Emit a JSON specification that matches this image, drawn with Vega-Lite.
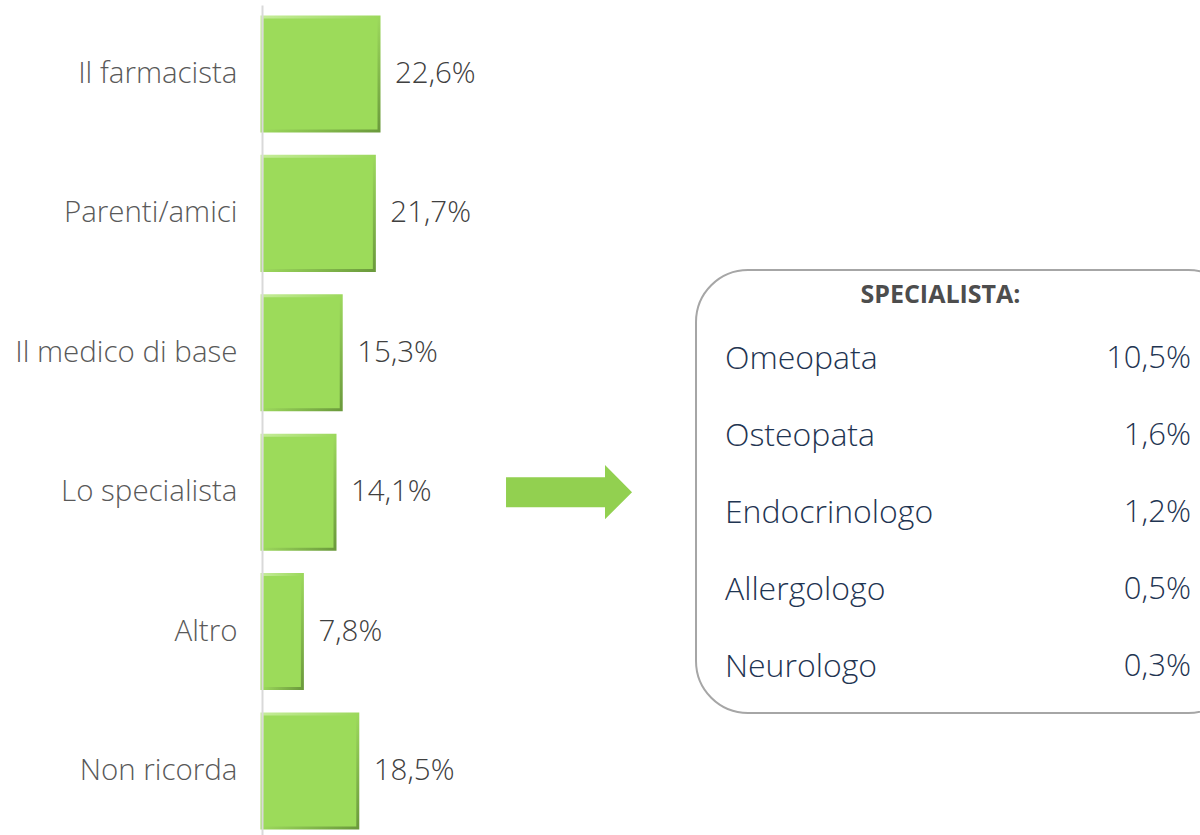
{
  "$schema": "https://vega.github.io/schema/vega-lite/v6.json",
  "background": "white",
  "padding": {"top": 5, "left": 0, "right": 0, "bottom": 0},
  "spacing": 0,
  "config": {
    "view": {"stroke": null},
    "locale": {"number": {"decimal": ",", "thousands": ".", "grouping": [3], "currency": ["€", ""]}},
    "concat": {"spacing": 0}
  },
  "datasets": {
    "fonti": [
      {"categoria": "Il farmacista", "valore": 0.226},
      {"categoria": "Parenti/amici", "valore": 0.217},
      {"categoria": "Il medico di base", "valore": 0.153},
      {"categoria": "Lo specialista", "valore": 0.141},
      {"categoria": "Altro", "valore": 0.078},
      {"categoria": "Non ricorda", "valore": 0.185}
    ],
    "specialisti": [
      {"nome": "Omeopata", "quota": 0.105, "ordine": 1},
      {"nome": "Osteopata", "quota": 0.016, "ordine": 2},
      {"nome": "Endocrinologo", "quota": 0.012, "ordine": 3},
      {"nome": "Allergologo", "quota": 0.005, "ordine": 4},
      {"nome": "Neurologo", "quota": 0.003, "ordine": 5}
    ]
  },
  "hconcat": [
    {
      "width": 433,
      "height": 830,
      "data": {"name": "fonti"},
      "encoding": {
        "y": {
          "field": "categoria",
          "type": "nominal",
          "sort": null,
          "scale": {"paddingInner": 0.182, "paddingOuter": 0.068, "align": 0.63},
          "axis": {
            "title": null,
            "domainColor": "#d9d9d9",
            "domainWidth": 2,
            "ticks": false,
            "grid": false,
            "zindex": 1,
            "labelPadding": 25,
            "labelFont": "Open Sans",
            "labelFontWeight": 300,
            "labelFontSize": 29.5,
            "labelColor": "#595959",
            "labelLimit": 300,
            "minExtent": 262,
            "maxExtent": 262
          }
        }
      },
      "layer": [
        {
          "mark": {
            "type": "bar",
            "fill": "#9cdb5a",
            "strokeWidth": 3,
            "stroke": {
              "gradient": "linear",
              "x1": 0, "y1": 0, "x2": 1, "y2": 1,
              "stops": [
                {"offset": 0, "color": "#c4ec98"},
                {"offset": 0.5, "color": "#9cd85c"},
                {"offset": 1, "color": "#6b9a3c"}
              ]
            }
          },
          "encoding": {
            "x": {
              "field": "valore",
              "type": "quantitative",
              "scale": {"domain": [0, 0.8363], "nice": false, "zero": true},
              "axis": null
            }
          }
        },
        {
          "mark": {
            "type": "text",
            "align": "left",
            "baseline": "middle",
            "dx": 16,
            "font": "Open Sans",
            "fontWeight": 300,
            "fontSize": 29.5,
            "color": "#404040"
          },
          "encoding": {
            "x": {"field": "valore", "type": "quantitative"},
            "text": {"field": "valore", "type": "quantitative", "format": ".1%"}
          }
        },
        {
          "data": {"values": [{"freccia": "Lo specialista"}]},
          "mark": {
            "type": "point",
            "filled": true,
            "opacity": 1,
            "fill": "#92d050",
            "strokeWidth": 0,
            "size": 15876,
            "shape": "M-1,-0.238L0.571,-0.238L0.571,-0.43L1,0L0.571,0.43L0.571,0.238L-1,0.238Z"
          },
          "encoding": {
            "y": {"field": "freccia", "type": "nominal"},
            "x": {"datum": 0.593, "type": "quantitative"}
          }
        }
      ]
    },
    {
      "width": 505,
      "height": 830,
      "data": {"name": "specialisti"},
      "layer": [
        {
          "data": {"values": [{"riquadro": "box"}]},
          "mark": {
            "type": "rect",
            "clip": true,
            "fill": "white",
            "stroke": "#a6a6a6",
            "strokeWidth": 2,
            "cornerRadius": 52
          },
          "encoding": {
            "x": {"datum": 0.0, "type": "quantitative", "scale": {"domain": [-0.002, 1], "nice": false, "zero": false}, "axis": null},
            "x2": {"datum": 1.08},
            "y": {"datum": -0.149, "type": "quantitative", "scale": {"domain": [-3.591, 7.188], "reverse": true, "nice": false, "zero": false}, "axis": null},
            "y2": {"datum": 5.604}
          }
        },
        {
          "data": {"values": [{"titolo": "SPECIALISTA:"}]},
          "mark": {
            "type": "text",
            "align": "center",
            "baseline": "middle",
            "font": "Open Sans",
            "fontWeight": "bold",
            "fontSize": 25,
            "color": "#4d4d4d"
          },
          "encoding": {
            "x": {"datum": 0.485, "type": "quantitative"},
            "y": {"datum": 0.175, "type": "quantitative"},
            "text": {"field": "titolo"}
          }
        },
        {
          "mark": {
            "type": "text",
            "align": "left",
            "baseline": "middle",
            "font": "Open Sans",
            "fontWeight": 300,
            "fontSize": 32,
            "color": "#1f3552"
          },
          "encoding": {
            "x": {"datum": 0.0574, "type": "quantitative"},
            "y": {"field": "ordine", "type": "quantitative"},
            "text": {"field": "nome"}
          }
        },
        {
          "mark": {
            "type": "text",
            "align": "right",
            "baseline": "middle",
            "font": "Open Sans",
            "fontWeight": 300,
            "fontSize": 31,
            "color": "#1f3552"
          },
          "encoding": {
            "x": {"datum": 0.982, "type": "quantitative"},
            "y": {"field": "ordine", "type": "quantitative"},
            "text": {"field": "quota", "type": "quantitative", "format": ".1%"}
          }
        }
      ]
    }
  ]
}
